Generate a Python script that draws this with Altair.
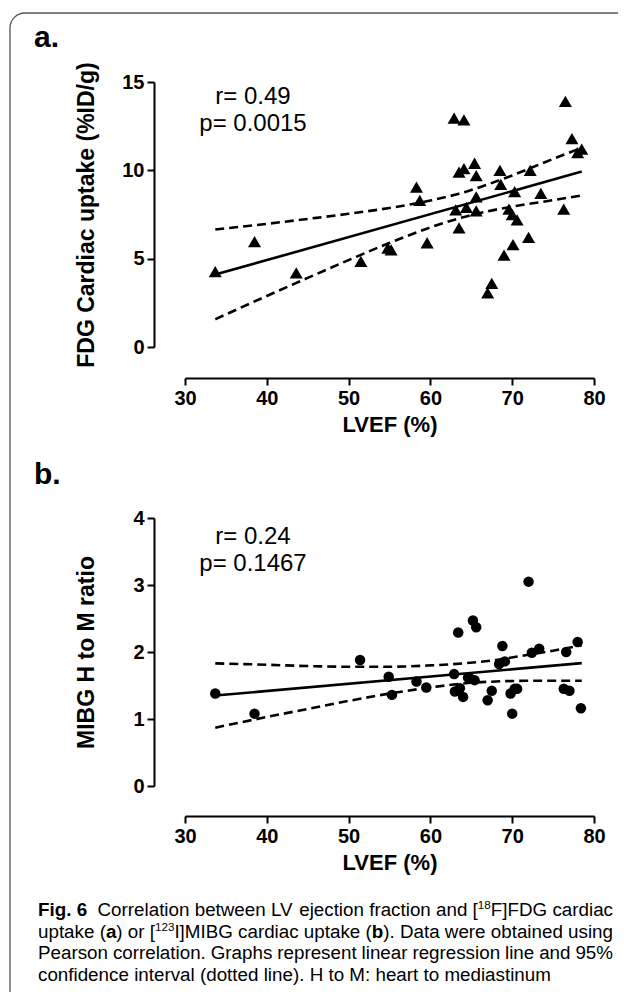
import re
import altair as alt
import pandas as pd

# ---------------- data ----------------
lvef_a = [33.7, 38.5, 43.6, 51.5, 54.8, 55.2, 58.3, 58.7, 59.6, 62.9,
          64.1, 63.1, 63.5, 63.5, 64.1, 64.4, 65.4, 65.6, 65.6, 65.6,
          67.0, 67.5, 68.5, 68.6, 69.0, 69.6, 70.0, 70.1, 70.3, 70.6,
          72.0, 72.2, 73.5, 76.3, 76.5, 77.3, 78.0, 78.5]
fdg_a = [4.27, 5.97, 4.2, 4.85, 5.6, 5.5, 9.05, 8.3, 5.9, 12.96,
         12.86, 7.76, 9.9, 6.74, 10.1, 7.9, 10.4, 9.7, 8.5, 7.7,
         3.06, 3.6, 10.0, 9.2, 5.2, 7.8, 7.5, 5.8, 8.8, 7.2,
         6.2, 10.0, 8.7, 7.8, 13.9, 11.8, 11.0, 11.2]

lvef_b = [33.7, 38.5, 51.4, 54.9, 55.3, 58.3, 59.5, 62.9, 63.4, 63.0,
          63.6, 64.0, 64.6, 65.2, 65.6, 64.8, 65.4, 67.0, 67.5, 68.4,
          68.8, 69.1, 69.8, 70.0, 70.3, 70.6, 72.0, 72.4, 73.3, 76.3,
          77.0, 76.6, 78.0, 78.4]
mibg_b = [1.38, 1.08, 1.88, 1.63, 1.36, 1.56, 1.47, 1.67, 2.29, 1.41,
          1.46, 1.33, 1.62, 2.47, 2.37, 1.61, 1.58, 1.28, 1.42, 1.82,
          2.09, 1.86, 1.38, 1.08, 1.45, 1.45, 3.05, 1.99, 2.05, 1.45,
          1.42, 2.0, 2.15, 1.16]

# regression line and 95% CI curves
fit_x_a = [33.7, 78.5]
fit_y_a = [4.1, 9.93]
ci_x_a = [33.7, 40, 45, 50, 55, 60, 63.5, 67, 70, 74, 78.5]
ci_hi_a = [6.65, 6.97, 7.25, 7.54, 7.87, 8.29, 8.68, 9.20, 9.71, 10.46, 11.28]
ci_lo_a = [1.57, 2.89, 3.91, 4.92, 5.89, 6.77, 7.28, 7.68, 7.95, 8.24, 8.58]

fit_x_b = [33.7, 78.5]
fit_y_b = [1.35, 1.834]
ci_x_b = [33.7, 40, 45, 50, 55, 60, 64, 68, 72, 75, 78.5]
ci_hi_b = [1.83, 1.81, 1.79, 1.78, 1.78, 1.80, 1.83, 1.88, 1.96, 2.02, 2.10]
ci_lo_b = [0.87, 1.03, 1.15, 1.27, 1.38, 1.47, 1.53, 1.56, 1.57, 1.57, 1.57]

x_ticks = [30, 40, 50, 60, 70, 80]
y_ticks_a = [0, 5, 10, 15]
y_ticks_b = [0, 1, 2, 3, 4]

stats_a = ["r= 0.49", "p= 0.0015"]
stats_b = ["r= 0.24", "p= 0.1467"]

caption_lines = [
    [("Fig. 6", "b"), ("  Correlation between LV ejection fraction and [", "r"),
     ("18", "sup"), ("F]FDG cardiac", "r")],
    [("uptake (", "r"), ("a", "b"), (") or [", "r"), ("123", "sup"),
     ("I]MIBG cardiac uptake (", "r"), ("b", "b"), ("). Data were obtained using", "r")],
    [("Pearson correlation. Graphs represent linear regression line and 95%", "r")],
    [("confidence interval (dotted line). H to M: heart to mediastinum", "r")],
]

# ---------------- layout ----------------
W, H = 610, 984
FONT = "Liberation Sans"
XR = [177, 586]          # pixel range of x = 30..80
YA = [339, 74]           # panel a: y = 0..15
YB = [778, 510]          # panel b: y = 0..4
AXIS_X_A = 370
AXIS_X_B = 808
AXIS_Y = 146

xs = alt.Scale(domain=[30, 80], range=XR, nice=False, zero=False)
ysa = alt.Scale(domain=[0, 15], range=YA, nice=False, zero=False)
ysb = alt.Scale(domain=[0, 4], range=YB, nice=False, zero=False)


def xaxis(ypix):
    return alt.Axis(orient="bottom", offset=ypix - H, values=x_ticks, title="LVEF (%)",
                    titlePadding=6, titleFontSize=22, format="d")


def yaxis(title, values, pad):
    return alt.Axis(orient="left", offset=-AXIS_Y, values=values, title=title,
                    titlePadding=pad, titleFontSize=23, format="d")


df_a = pd.DataFrame({"x": lvef_a, "y": fdg_a})
df_b = pd.DataFrame({"x": lvef_b, "y": mibg_b})
fa = pd.DataFrame({"x": fit_x_a, "y": fit_y_a})
fb = pd.DataFrame({"x": fit_x_b, "y": fit_y_b})
cha = pd.DataFrame({"x": ci_x_a, "y": ci_hi_a})
cla = pd.DataFrame({"x": ci_x_a, "y": ci_lo_a})
chb = pd.DataFrame({"x": ci_x_b, "y": ci_hi_b})
clb = pd.DataFrame({"x": ci_x_b, "y": ci_lo_b})

layers = []
layers.append(alt.Chart(df_a).mark_point(shape="triangle-up", filled=True, color="black",
                                         size=170, opacity=1).encode(
    x=alt.X("x:Q", scale=xs, axis=xaxis(AXIS_X_A)),
    y=alt.Y("y:Q", scale=ysa, axis=yaxis("FDG Cardiac uptake (%ID/g)", y_ticks_a, 23))))
layers.append(alt.Chart(fa).mark_line(color="black", strokeWidth=2.6).encode(
    x=alt.X("x:Q", scale=xs, axis=None), y=alt.Y("y:Q", scale=ysa, axis=None)))
for d in (cha, cla):
    layers.append(alt.Chart(d).mark_line(color="black", strokeWidth=2.6, strokeDash=[9, 5],
                                         interpolate="monotone").encode(
        x=alt.X("x:Q", scale=xs, axis=None), y=alt.Y("y:Q", scale=ysa, axis=None)))

layers.append(alt.Chart(df_b).mark_circle(color="black", size=110, opacity=1).encode(
    x=alt.X("x:Q", scale=xs, axis=xaxis(AXIS_X_B)),
    y=alt.Y("y:Q", scale=ysb, axis=yaxis("MIBG H to M ratio", y_ticks_b, 34))))
layers.append(alt.Chart(fb).mark_line(color="black", strokeWidth=2.6).encode(
    x=alt.X("x:Q", scale=xs, axis=None), y=alt.Y("y:Q", scale=ysb, axis=None)))
for d in (chb, clb):
    layers.append(alt.Chart(d).mark_line(color="black", strokeWidth=2.6, strokeDash=[9, 5],
                                         interpolate="monotone").encode(
        x=alt.X("x:Q", scale=xs, axis=None), y=alt.Y("y:Q", scale=ysb, axis=None)))

# ---------------- texts ----------------
def text_layer(df, **kw):
    return alt.Chart(df).mark_text(font=FONT, color="black", baseline="alphabetic", **kw).encode(
        x=alt.X("x:Q", scale=None, axis=None),
        y=alt.Y("y:Q", scale=None, axis=None),
        text="text:N",
        size=alt.Size("size:Q", scale=None, legend=None))

labels = pd.DataFrame({"x": [26, 26], "y": [39, 476], "text": ["a.", "b."], "size": [30, 30]})
layers.append(text_layer(labels, align="left", fontWeight="bold"))

stats = pd.DataFrame({"x": [245, 245, 245, 245], "y": [96, 123, 536, 563],
                      "text": stats_a + stats_b, "size": [24, 24, 24, 24]})
layers.append(text_layer(stats, align="center"))

# caption: Arial/Liberation advance widths (1/1000 em) to place runs and justify
REG = {" ": 278, "%": 889, "(": 333, ")": 333, ",": 278, "-": 333, ".": 278, "/": 278,
       ":": 278, "[": 278, "]": 278,
       "A": 667, "B": 667, "C": 722, "D": 722, "E": 667, "F": 611, "G": 778, "H": 722,
       "I": 278, "J": 500, "K": 667, "L": 556, "M": 833, "N": 722, "O": 778, "P": 667,
       "Q": 778, "R": 722, "S": 667, "T": 611, "U": 722, "V": 667, "W": 944, "X": 667,
       "Y": 667, "Z": 611,
       "a": 556, "b": 556, "c": 500, "d": 556, "e": 556, "f": 278, "g": 556, "h": 556,
       "i": 222, "j": 222, "k": 500, "l": 222, "m": 833, "n": 556, "o": 556, "p": 556,
       "q": 556, "r": 333, "s": 500, "t": 278, "u": 556, "v": 500, "w": 722, "x": 500,
       "y": 500, "z": 500}
BOLD = {" ": 278, ".": 278, "F": 611, "i": 278, "g": 611, "a": 556, "b": 611}
SUP = 0.62


def piece_w(tok, style, s):
    if style == "b":
        return sum(BOLD.get(c, 556) for c in tok) / 1000 * s
    if style == "sup":
        return sum(REG.get(c, 556) for c in tok) / 1000 * s * SUP
    return sum(REG.get(c, 556) for c in tok) / 1000 * s


def pieces_of(runs):
    out = []
    for text, style in runs:
        for tok in re.findall(r"\s|[^\s]+", text):
            out.append((tok, style))
    return out


X0, TW = 30, 575
BASE = [908, 930, 951, 973]
S = TW / sum(piece_w(t, st, 1.0) for t, st in pieces_of(caption_lines[0]))
rows = []
for li, runs in enumerate(caption_lines):
    ps = pieces_of(runs)
    nat = sum(piece_w(t, st, S) for t, st in ps)
    nsp = sum(1 for t, st in ps if t.isspace())
    extra = (TW - nat) / nsp if (li < 3 and nsp) else 0.0
    x = X0
    for t, st in ps:
        wd = piece_w(t, st, S)
        if t.isspace():
            x += wd + extra
            continue
        rows.append({"x": x, "y": BASE[li] - (0.38 * S if st == "sup" else 0), "text": t,
                     "size": S * SUP if st == "sup" else S, "bold": st == "b"})
        x += wd
cap = pd.DataFrame(rows)
layers.append(text_layer(cap[~cap["bold"]].drop(columns="bold"), align="left"))
layers.append(text_layer(cap[cap["bold"]].drop(columns="bold"), align="left", fontWeight="bold"))

# rounded frame around the figure
frame = pd.DataFrame({"k": [0]})
layers.append(alt.Chart(frame).mark_rect(fillOpacity=0, stroke="#555555", strokeWidth=1.3,
                                         cornerRadius=15).encode(
    x=alt.value(2), x2=alt.value(720), y=alt.value(5), y2=alt.value(1100)))

chart = alt.layer(*layers).resolve_scale(
    x="independent", y="independent", size="independent"
).resolve_axis(x="independent", y="independent").properties(
    width=W, height=H, autosize=alt.AutoSizeParams(type="none"), padding=0
).configure_view(strokeWidth=0).configure_axis(
    grid=False, domainColor="black", domainWidth=2, tickColor="black", tickWidth=2,
    tickSize=7, labelFont=FONT, labelFontSize=20, labelFontWeight="bold",
    labelColor="black", labelPadding=3, labelFlush=False, labelOverlap=False,
    titleFont=FONT, titleFontWeight="bold", titleColor="black"
)

chart.save("out.html", embed_options={"renderer": "svg", "actions": False})
